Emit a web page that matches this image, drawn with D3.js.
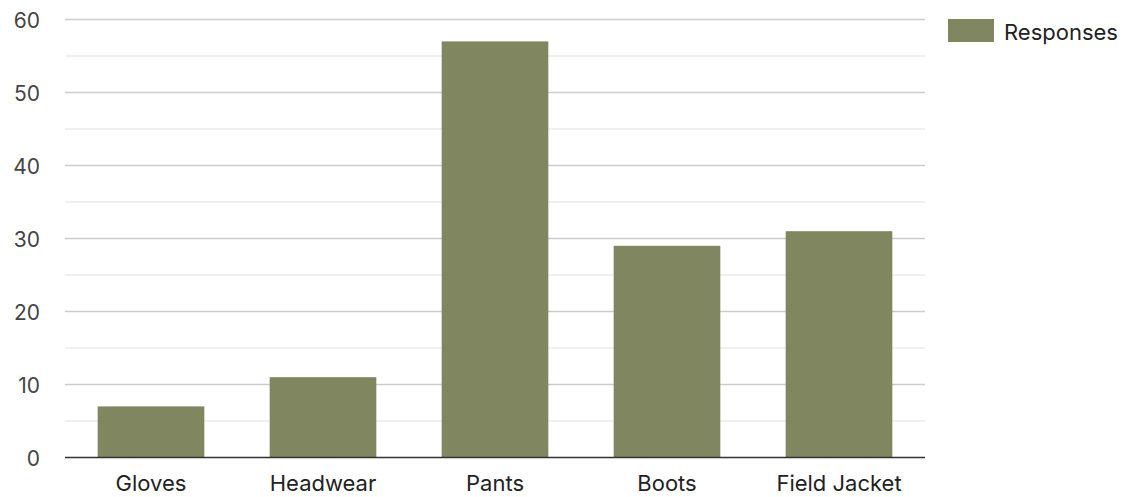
<!DOCTYPE html>
<html>
<head>
<meta charset="utf-8">
<script src="https://cdn.jsdelivr.net/npm/d3@7"></script>
<style>
  html, body { margin: 0; padding: 0; background: #ffffff; }
  svg { display: block; font-family: Inter, "Open Sans", sans-serif; }
</style>
</head>
<body>
<svg id="chart" width="1129" height="497"></svg>
<script>
const categories = ["Gloves", "Headwear", "Pants", "Boots", "Field Jacket"];
const responses = [7, 11, 57, 29, 31];
const majorTicks = [0, 10, 20, 30, 40, 50, 60];
const minorTicks = [5, 15, 25, 35, 45, 55];
const seriesName = "Responses";

const svg = d3.select("#chart");
const margin = { left: 65, right: 204, top: 20, bottom: 40 };
const width = 1129, height = 497;

const x = d3.scaleBand()
  .domain(categories)
  .range([margin.left, width - margin.right])
  .paddingInner(0.38)
  .paddingOuter(0.19);

const y = d3.scaleLinear()
  .domain([0, 60])
  .range([457.5, 19.5]);

const barColor = "#80865f";
const fontSize = 22;

// minor gridlines
svg.append("g")
  .selectAll("line")
  .data(minorTicks)
  .join("line")
  .attr("x1", margin.left).attr("x2", width - margin.right)
  .attr("y1", d => y(d)).attr("y2", d => y(d))
  .attr("stroke", "#ebebeb").attr("stroke-width", 1.5);

// major gridlines
svg.append("g")
  .selectAll("line")
  .data(majorTicks.filter(d => d !== 0))
  .join("line")
  .attr("x1", margin.left).attr("x2", width - margin.right)
  .attr("y1", d => y(d)).attr("y2", d => y(d))
  .attr("stroke", "#cccccc").attr("stroke-width", 1.5);

// y axis labels
const yAxis = d3.axisLeft(y).tickValues(majorTicks).tickSize(0).tickPadding(0);
const yg = svg.append("g").attr("transform", `translate(40,1)`).call(yAxis);
yg.select(".domain").remove();
yg.selectAll("text")
  .attr("font-size", 21)
  .attr("fill", "#444444")
  .attr("font-family", "Inter, sans-serif");

// bars
svg.append("g")
  .selectAll("rect")
  .data(categories.map((c, i) => ({ c, v: responses[i] })))
  .join("rect")
  .attr("x", d => x(d.c))
  .attr("width", x.bandwidth())
  .attr("y", d => y(d.v))
  .attr("height", d => y(0) - y(d.v))
  .attr("fill", barColor);

// baseline + category labels
const xAxis = d3.axisBottom(x).tickSize(0).tickPadding(18);
const xg = svg.append("g").attr("transform", `translate(0,${y(0)})`).call(xAxis);
xg.select(".domain")
  .attr("stroke", "#333333").attr("stroke-width", 1.5)
  .attr("d", `M${margin.left},0H${width - margin.right}`);
xg.selectAll("text")
  .attr("font-size", fontSize)
  .attr("fill", "#222222")
  .attr("font-family", "Inter, sans-serif");

// legend
const legend = svg.append("g").attr("transform", "translate(948,19)");
legend.append("rect").attr("width", 46).attr("height", 23).attr("fill", barColor);
legend.append("text")
  .attr("x", 56).attr("y", 13)
  .attr("dy", "0.35em")
  .attr("font-size", fontSize)
  .attr("fill", "#222222")
  .text(seriesName);
</script>
</body>
</html>
